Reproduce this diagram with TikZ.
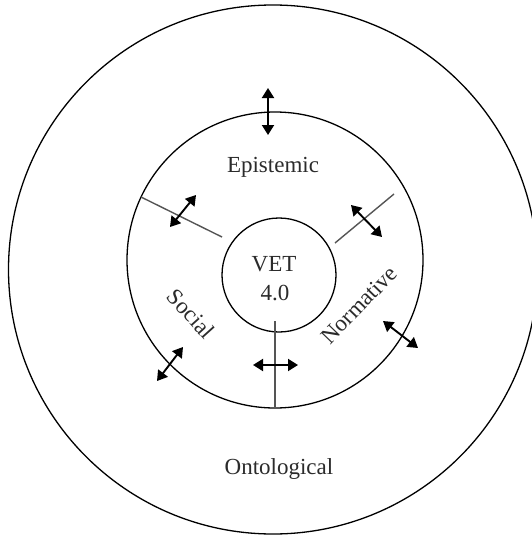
\documentclass[tikz,border=0pt]{standalone}
\usepackage{fontspec}
\setmainfont{Liberation Serif}
\usetikzlibrary{arrows.meta}
\definecolor{txt}{HTML}{2B2B2B}
\definecolor{divc}{HTML}{555555}
\tikzset{
  ring/.style={circle, draw=black, line width=1.3pt, inner sep=0pt},
  lbl/.style={text=txt, font=\fontsize{23}{27}\selectfont, inner sep=0pt},
  divider/.style={draw=divc, line width=1.4pt},
  dblarrow/.style={draw=black, line width=1.9pt, {Triangle[width=12pt,length=10pt]}-{Triangle[width=12pt,length=10pt]}, shorten <=0pt, shorten >=0pt}
}
\begin{document}
\begin{tikzpicture}[x=1pt,y=-1pt]
\useasboundingbox (0,0) rectangle (532,538);
\fill[white] (0,0) rectangle (532,538);
\begin{scope}
\clip (0,0) rectangle (532,538);
\node[ring, minimum size=529pt] (outer) at (273,269.5) {};
\end{scope}
\node[ring, minimum size=296pt] (mid) at (275,260) {};
\node[ring, minimum size=114pt] (inner) at (279,275) {};

% labels
\node[lbl, anchor=base] (epi) at (273,172) {Epistemic};
\node[lbl, anchor=base] (vet) at (274,271) {VET};
\node[lbl, anchor=base] (four) at (275,300) {4.0};
\node[lbl, anchor=base] (onto) at (279,474) {Ontological};
\node[lbl, rotate=-48] (soc) at (191,314) {Social};
\node[lbl, rotate=46] (norm) at (359,305) {Normative};

% dividers
\coordinate (dl1) at (141,197); \coordinate (dl2) at (222,237);
\coordinate (dr1) at (394,194); \coordinate (dr2) at (335,243);
\coordinate (db1) at (275,321); \coordinate (db2) at (275,407);
\draw[divider] (dl1) -- (dl2);
\draw[divider] (dr1) -- (dr2);
\draw[divider] (db1) -- (db2);

% arrows
\coordinate (at1) at (268,88);  \coordinate (at2) at (268,135);
\coordinate (al1) at (170,227); \coordinate (al2) at (196,195);
\coordinate (ar1) at (351,205); \coordinate (ar2) at (382,237);
\coordinate (ab1) at (157,381); \coordinate (ab2) at (183,347);
\coordinate (ah1) at (253,365); \coordinate (ah2) at (298,365);
\coordinate (ac1) at (383,321); \coordinate (ac2) at (418,348);
\draw[dblarrow] (at1) -- (at2);
\draw[dblarrow] (al1) -- (al2);
\draw[dblarrow] (ar1) -- (ar2);
\draw[dblarrow] (ab1) -- (ab2);
\draw[dblarrow] (ah1) -- (ah2);
\draw[dblarrow] (ac1) -- (ac2);
\end{tikzpicture}
\end{document}
